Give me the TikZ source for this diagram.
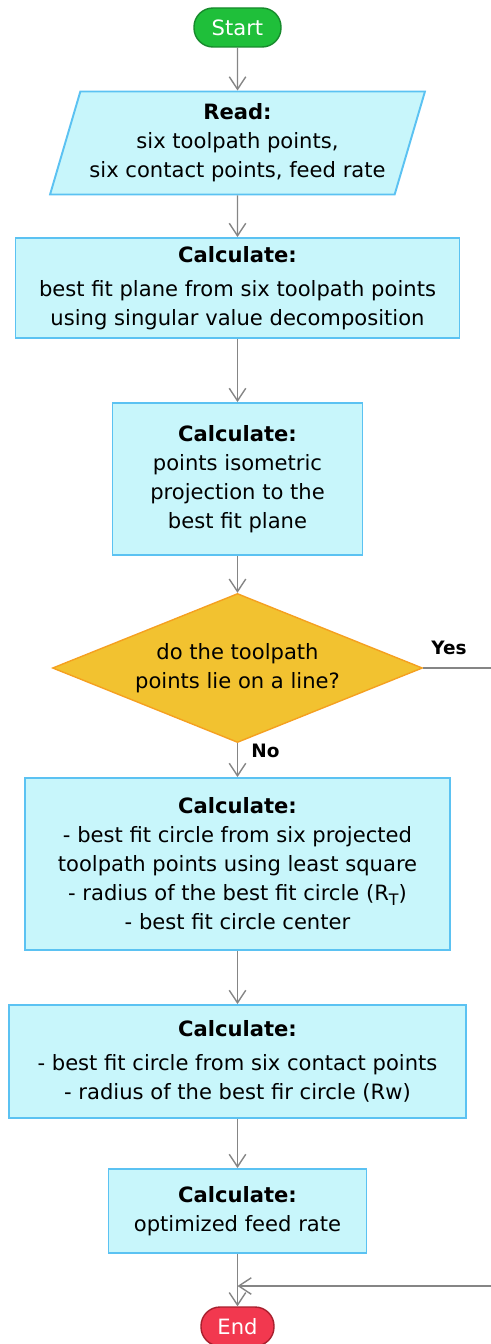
\documentclass[tikz,border=0pt]{standalone}
\usepackage{fontspec}
\setmainfont{DejaVu Sans}
\usetikzlibrary{shapes.geometric,arrows.meta,positioning}

\definecolor{boxfill}{HTML}{C8F6FB}
\definecolor{boxline}{HTML}{5BC2F2}
\definecolor{decfill}{HTML}{F2C230}
\definecolor{decline}{HTML}{F5A020}
\definecolor{startfill}{HTML}{1FBF3A}
\definecolor{startline}{HTML}{178A2C}
\definecolor{endfill}{HTML}{F2384F}
\definecolor{endline}{HTML}{A8202E}
\definecolor{flowline}{HTML}{858585}

\begin{document}
\begin{tikzpicture}[
  font=\fontsize{12}{16.5}\selectfont,
  every node/.style={align=center, inner sep=0pt},
  proc/.style={rectangle, draw=boxline, fill=boxfill, line width=1.1pt},
  io/.style={trapezium, trapezium left angle=70, trapezium right angle=110,
    trapezium stretches=true, draw=boxline, fill=boxfill, line width=1.1pt},
  decision/.style={diamond, aspect=2.48, draw=decline, fill=decfill, line width=0.8pt},
  terminal/.style={rectangle, rounded corners=0.38cm, line width=0.8pt,
    minimum width=1.74cm, minimum height=0.78cm, text=white},
  flow/.style={draw=flowline, line width=0.8pt,
    -{Straight Barb[length=2.5mm, width=3.3mm]}},
  tag/.style={font=\fontsize{10.5}{12}\selectfont\bfseries},
]

\useasboundingbox (0,0) rectangle (9.82,-26.88);

\def\xc{4.75}

% start / end
\node[terminal, draw=startline, fill=startfill] (start) at (\xc,-0.55) {Start};
\node[terminal, draw=endline, fill=endfill, minimum width=1.46cm] (end) at (\xc,-26.53) {End};

% input
\node[io, minimum width=7.5cm, minimum height=2.06cm] (read) at (\xc,-2.86)
  {\textbf{Read:}\\six toolpath points,\\six contact points, feed rate};

% processing steps
\node[proc, minimum width=8.88cm, minimum height=2.0cm] (plane) at (\xc,-5.76)
  {\textbf{Calculate:}\\[3pt]best fit plane from six toolpath points\\using singular value decomposition};
\node[proc, minimum width=5cm, minimum height=3.04cm] (proj) at (\xc,-9.58)
  {\textbf{Calculate:}\\points isometric\\projection to the\\best fit plane};
\node[decision, minimum width=7.4cm, minimum height=2.98cm] (line) at (\xc,-13.36)
  {do the toolpath\\points lie on a line?};
\node[proc, minimum width=8.5cm, minimum height=3.44cm] (circT) at (\xc,-17.28)
  {\textbf{Calculate:}\\- best fit circle from six projected\\toolpath points using least square\\
   - radius of the best fit circle (R\raisebox{-0.4ex}{\small T})\\- best fit circle center};
\node[proc, minimum width=9.14cm, minimum height=2.26cm] (circW) at (\xc,-21.23)
  {\textbf{Calculate:}\\[3pt]- best fit circle from six contact points\\- radius of the best fir circle (Rw)};
\node[proc, minimum width=5.16cm, minimum height=1.68cm] (feed) at (\xc,-24.22)
  {\textbf{Calculate:}\\optimized feed rate};

% connectors
\draw[flow] (start) -- (read);
\draw[flow] (read) -- (plane);
\draw[flow] (plane) -- (proj);
\draw[flow] (proj) -- (line);
\draw[flow] (line) -- (circT);
\draw[flow] (circT) -- (circW);
\draw[flow] (circW) -- (feed);
\draw[flow] (feed) -- (end);

% yes branch goes round the right side
\coordinate (merge) at (\xc,-25.72);
\coordinate (turn) at (9.95,-25.72);
\draw[flow] (line.east) -| (turn) -- (merge);

\node[tag] (yes) at (8.98,-12.96) {Yes};
\node[tag] (no) at (5.31,-15.02) {No};

\end{tikzpicture}
\end{document}
